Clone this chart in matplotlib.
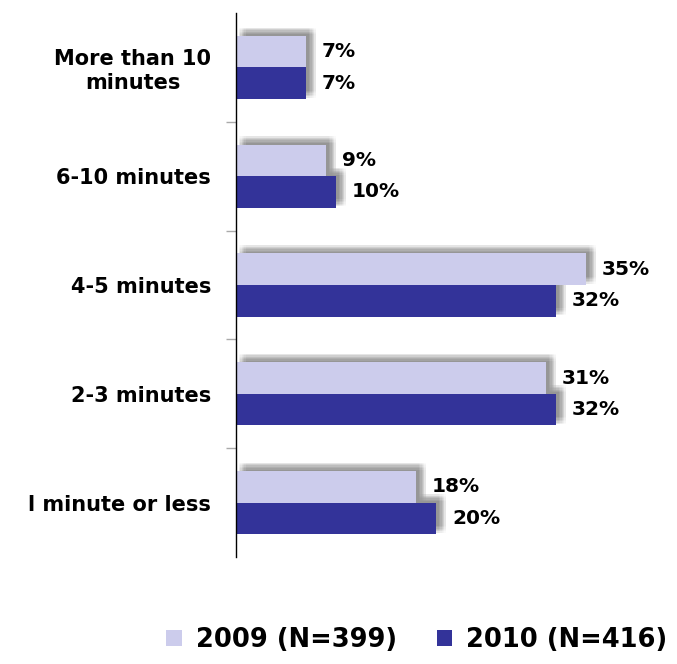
import numpy as np
import matplotlib
matplotlib.use('Agg')
import matplotlib.pyplot as plt
import matplotlib.patheffects as pe

# Werte
kategorien = ['More than 10\nminutes', '6-10 minutes', '4-5 minutes',
              '2-3 minutes', 'l minute or less']
werte_2009 = [7, 9, 35, 31, 18]
werte_2010 = [7, 10, 32, 32, 20]
serien = ['2009 (N=399)', '2010 (N=416)']

hell = '#ccccec'
dunkel = '#333399'

fig = plt.figure(figsize=(6.77, 6.64), dpi=100)
ax = fig.add_axes([236 / 677, 107 / 664, 400 / 677, 544 / 664])

y = np.arange(len(kategorien))
h = 0.29

# weicher Schatten nach oben rechts (mehrere versetzte, transparente Kopien),
# wird unter allen Balken gezeichnet
schatten = []
for dx in [2, 3, 4, 5, 6, 7]:
    for dy in [1, 2, 3, 4, 5, 6]:
        schatten.append(pe.SimplePatchShadow(offset=(dx, dy), shadow_rgbFace='#777777', alpha=0.03))

for pos, werte in [(y - h / 2, werte_2009), (y + h / 2, werte_2010)]:
    sb = ax.barh(pos, werte, height=h, color='none', zorder=2)
    for r in sb:
        r.set_path_effects(schatten)

b1 = ax.barh(y - h / 2, werte_2009, height=h, color=hell, label=serien[0], zorder=3)
b2 = ax.barh(y + h / 2, werte_2010, height=h, color=dunkel, label=serien[1], zorder=3)

# Wertbeschriftungen
for yy, v in zip(y - h / 2, werte_2009):
    ax.annotate(f'{v}%', (v, yy), xytext=(11.5, 0), textcoords='offset points',
                va='center', ha='left', fontsize=14.5, fontweight='bold')
for yy, v in zip(y + h / 2, werte_2010):
    ax.annotate(f'{v}%', (v, yy), xytext=(11.5, 0), textcoords='offset points',
                va='center', ha='left', fontsize=14.5, fontweight='bold')

ax.set_xlim(0, 40)
ax.set_ylim(len(kategorien) - 0.5, -0.5)

ax.set_yticks(y)
ax.set_yticklabels(kategorien, fontsize=15, fontweight='bold', ha='right', multialignment='center')
ax.tick_params(axis='y', which='major', length=0, pad=18)
ax.set_yticks(np.arange(0.5, len(kategorien) - 1, 1), minor=True)
ax.tick_params(axis='y', which='minor', length=7, color='#aaaaaa', width=1)
ax.set_xticks([])

for s in ['top', 'right', 'bottom']:
    ax.spines[s].set_visible(False)
ax.spines['left'].set_color('black')
ax.spines['left'].set_linewidth(1)
ax.spines['left'].set_zorder(4)

leg = fig.legend(handles=[b1, b2], labels=serien, loc='center',
                 bbox_to_anchor=(417 / 677, 1 - 640 / 664), ncol=2, frameon=False,
                 prop={'weight': 'bold', 'size': 18.5}, handlelength=0.6, handleheight=0.6,
                 handletextpad=0.55, columnspacing=1.55)

plt.savefig('out.png', dpi=100)
